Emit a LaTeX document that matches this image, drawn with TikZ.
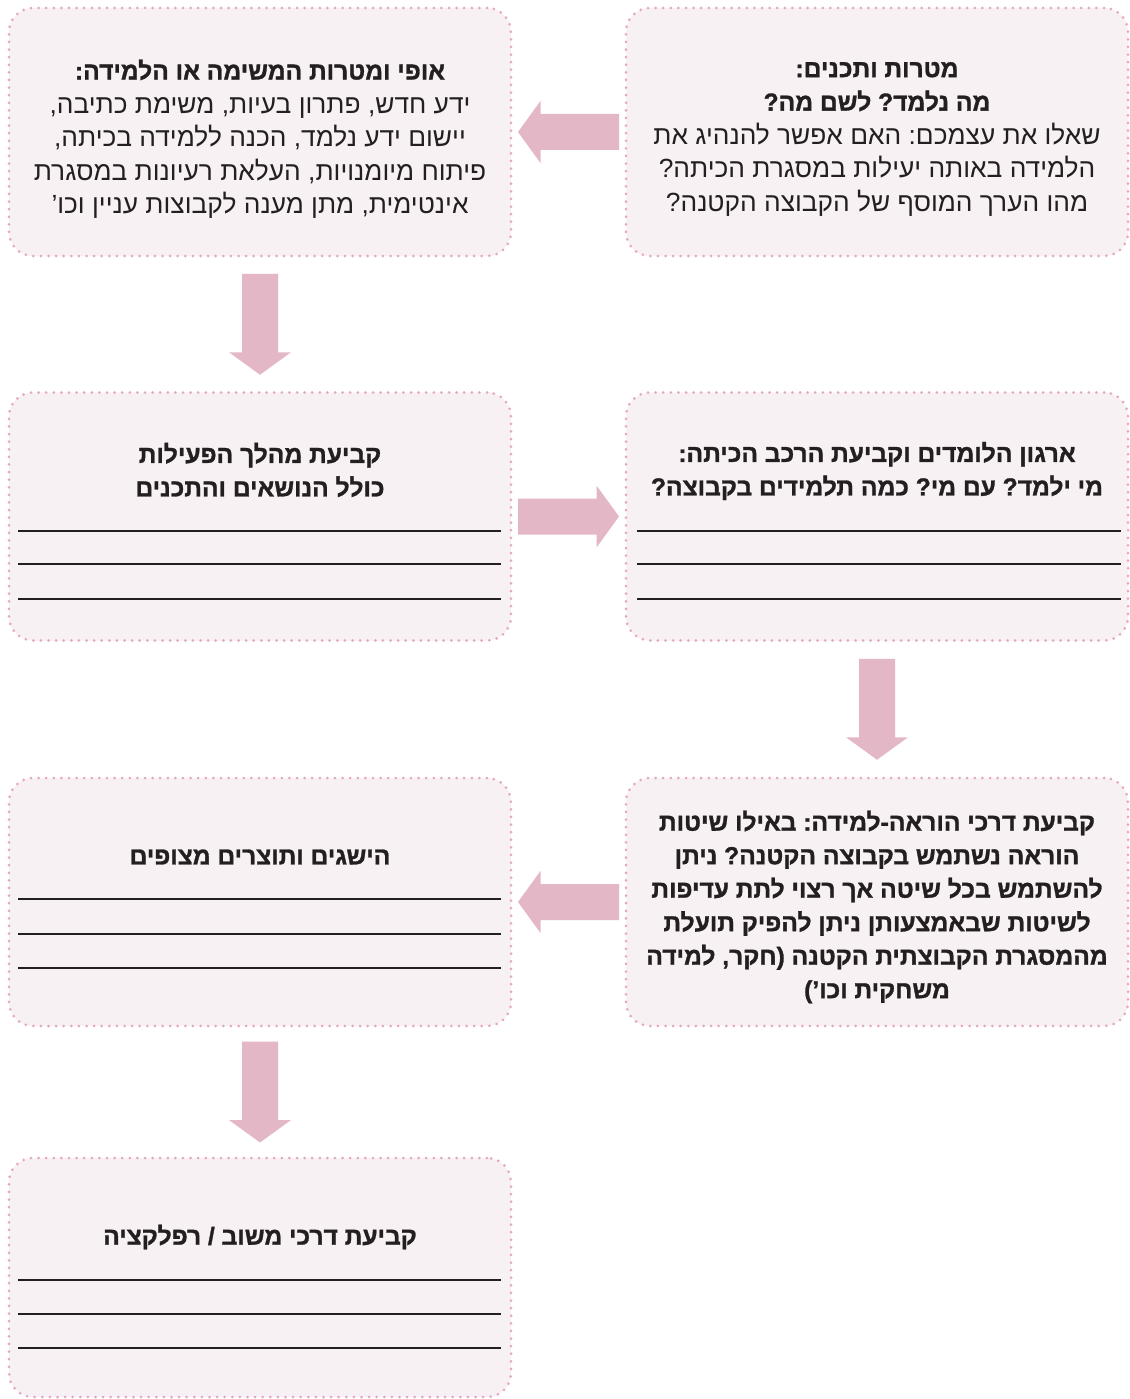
\documentclass[tikz,border=0pt]{standalone}
\usepackage{fontspec}
\newfontfamily\hebfont[Script=Hebrew,BoldFeatures={FakeBold=1.2}]{Liberation Sans}
\TeXXeTstate=1
\usetikzlibrary{calc}

\definecolor{boxfill}{RGB}{248,241,244}
\definecolor{boxline}{RGB}{228,168,193}
\definecolor{arrowfill}{RGB}{228,183,198}
\definecolor{textdark}{RGB}{35,31,32}

\newcommand{\rtlline}[1]{\beginR #1\endR}
\newcommand{\regfont}{\hebfont\fontsize{26.3}{33.5}\selectfont\frenchspacing}
\newcommand{\boldfont}{\hebfont\bfseries\fontsize{24.6}{33.5}\selectfont\frenchspacing}

\begin{document}
\begin{tikzpicture}[x=1pt,y=-1pt,
  box/.style={draw=boxline,fill=boxfill,rounded corners=24pt,line width=3pt,
    dash pattern=on 0pt off 7.6pt,line cap=round,minimum width=502pt,minimum height=248pt},
  heb/.style={font=\regfont,text=textdark,align=center,inner sep=0pt},
  hebbold/.style={heb,font=\boldfont},
  ruleline/.style={textdark,line width=1.6pt},
  fatarrow/.pic={\fill[arrowfill] (-50.5,-18)--(28,-18)--(28,-31)--(50.5,0)--(28,31)--(28,18)--(-50.5,18)--cycle;}]

\fill[white] (0,0) rectangle (1129,1399);
\useasboundingbox (0,0) rectangle (1129,1399);

% boxes
\node[box] (b1) at (877,132) {};
\node[box] (b2) at (260,132) {};
\node[box] (b3) at (877,516.5) {};
\node[box] (b4) at (260,516.5) {};
\node[box] (b5) at (877,902) {};
\node[box] (b6) at (260,902) {};
\node[box,minimum height=239pt] (b7) at (260,1277.5) {};

% arrows
\pic[rotate=180] at ($(b1.west)!0.5!(b2.east)$) {fatarrow};
\pic[rotate=-90] at ($(b2.south)!0.5!(b4.north)$) {fatarrow};
\pic at ($(b4.east)!0.5!(b3.west)$) {fatarrow};
\pic[rotate=-90] at ($(b3.south)!0.5!(b5.north)$) {fatarrow};
\pic[rotate=180] at ($(b5.west)!0.5!(b6.east)$) {fatarrow};
\pic[rotate=-90] at ($(b6.south)!0.5!(b7.north)$) {fatarrow};

% texts
\node[heb] (t1) at (877,139) {{\boldfont\rtlline{מטרות ותכנים:}}\\
  {\boldfont\rtlline{מה נלמד? לשם מה?}}\\
  \rtlline{שאלו את עצמכם: האם אפשר להנהיג את}\\
  \rtlline{הלמידה באותה יעילות במסגרת הכיתה?}\\
  \rtlline{מהו הערך המוסף של הקבוצה הקטנה?}};
\node[heb] (t2) at (260,139) {{\boldfont\rtlline{אופי ומטרות המשימה או הלמידה:}}\\
  \rtlline{ידע חדש, פתרון בעיות, משימת כתיבה,}\\
  \rtlline{יישום ידע נלמד, הכנה ללמידה בכיתה,}\\
  \rtlline{פיתוח מיומנויות, העלאת רעיונות במסגרת}\\
  \rtlline{אינטימית, מתן מענה לקבוצות עניין וכו’}};
\node[hebbold] (t3) at (877,471)
  {\rtlline{ארגון הלומדים וקביעת הרכב הכיתה:}\\ \rtlline{מי ילמד? עם מי? כמה תלמידים בקבוצה?}};
\node[hebbold] (t4) at (260,470)
  {\rtlline{קביעת מהלך הפעילות}\\ \rtlline{כולל הנושאים והתכנים}};
\node[hebbold] (t5) at (877,907)
  {\rtlline{קביעת דרכי הוראה-למידה: באילו שיטות}\\
  \rtlline{הוראה נשתמש בקבוצה הקטנה? ניתן}\\
  \rtlline{להשתמש בכל שיטה אך רצוי לתת עדיפות}\\
  \rtlline{לשיטות שבאמצעותן ניתן להפיק תועלת}\\
  \rtlline{מהמסגרת הקבוצתית הקטנה (חקר, למידה}\\
  \rtlline{משחקית וכו’)}};
\node[hebbold] (t6) at (260,857) {\rtlline{הישגים ותוצרים מצופים}};
\node[hebbold] (t7) at (260,1237) {\rtlline{קביעת דרכי משוב / רפלקציה}};

% lines to write on
\foreach \y in {531,564,599} {
  \draw[ruleline] (18,\y)--(501,\y);
  \draw[ruleline] (637,\y)--(1121,\y);
}
\foreach \y in {899,934,968} \draw[ruleline] (18,\y)--(501,\y);
\foreach \y in {1280,1314,1348} \draw[ruleline] (18,\y)--(501,\y);

\end{tikzpicture}
\end{document}
